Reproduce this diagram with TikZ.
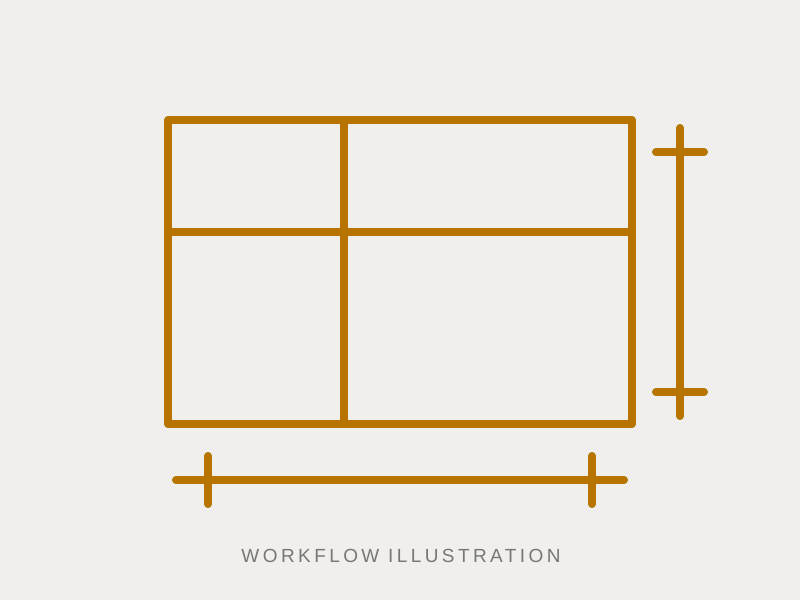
\documentclass[tikz,border=0pt]{standalone}
\usepackage{fontspec}
\setmainfont{Liberation Sans}
\usetikzlibrary{arrows.meta}

\definecolor{bgcol}{HTML}{F0EFEB}
\definecolor{framecol}{HTML}{B87400}
\definecolor{textcol}{HTML}{777777}

\begin{document}
\begin{tikzpicture}[x=1pt,y=-1pt]
        \fill[bgcol] (0,0) rectangle (800,600);
        \useasboundingbox (0,0) rectangle (800,600);

        \coordinate (A) at (168,120);
        \coordinate (B) at (632,120);
        \coordinate (C) at (632,424);
        \coordinate (D) at (168,424);
        \coordinate (M1) at (344,120);
        \coordinate (M2) at (344,424);
        \coordinate (N1) at (168,232);
        \coordinate (N2) at (632,232);

        \coordinate (V1) at (680,128);
        \coordinate (V2) at (680,416);
        \coordinate (H1) at (176,480);
        \coordinate (H2) at (624,480);

        \draw[framecol,line width=8pt,line join=round] (A) -- (B) -- (C) -- (D) -- cycle; % Keret
        \draw[framecol,line width=8pt] (M1) -- (M2);                      % Fuggoleges
        \draw[framecol,line width=8pt] (N1) -- (N2);                      % Vizszintes

        \draw[framecol,line width=8pt,line cap=round] (V1) -- (V2);       % Jobb meret
        \draw[framecol,line width=8pt,line cap=round] (656,152) -- (704,152);
        \draw[framecol,line width=8pt,line cap=round] (656,392) -- (704,392);

        \draw[framecol,line width=8pt,line cap=round] (H1) -- (H2);       % Also meret
        \draw[framecol,line width=8pt,line cap=round] (208,456) -- (208,504);
        \draw[framecol,line width=8pt,line cap=round] (592,456) -- (592,504);

        \node[textcol,font=\fontsize{19}{22}\selectfont\addfontfeatures{LetterSpace=18}] (title) at (401,556) {WORKFLOW ILLUSTRATION};
\end{tikzpicture}
\end{document}
